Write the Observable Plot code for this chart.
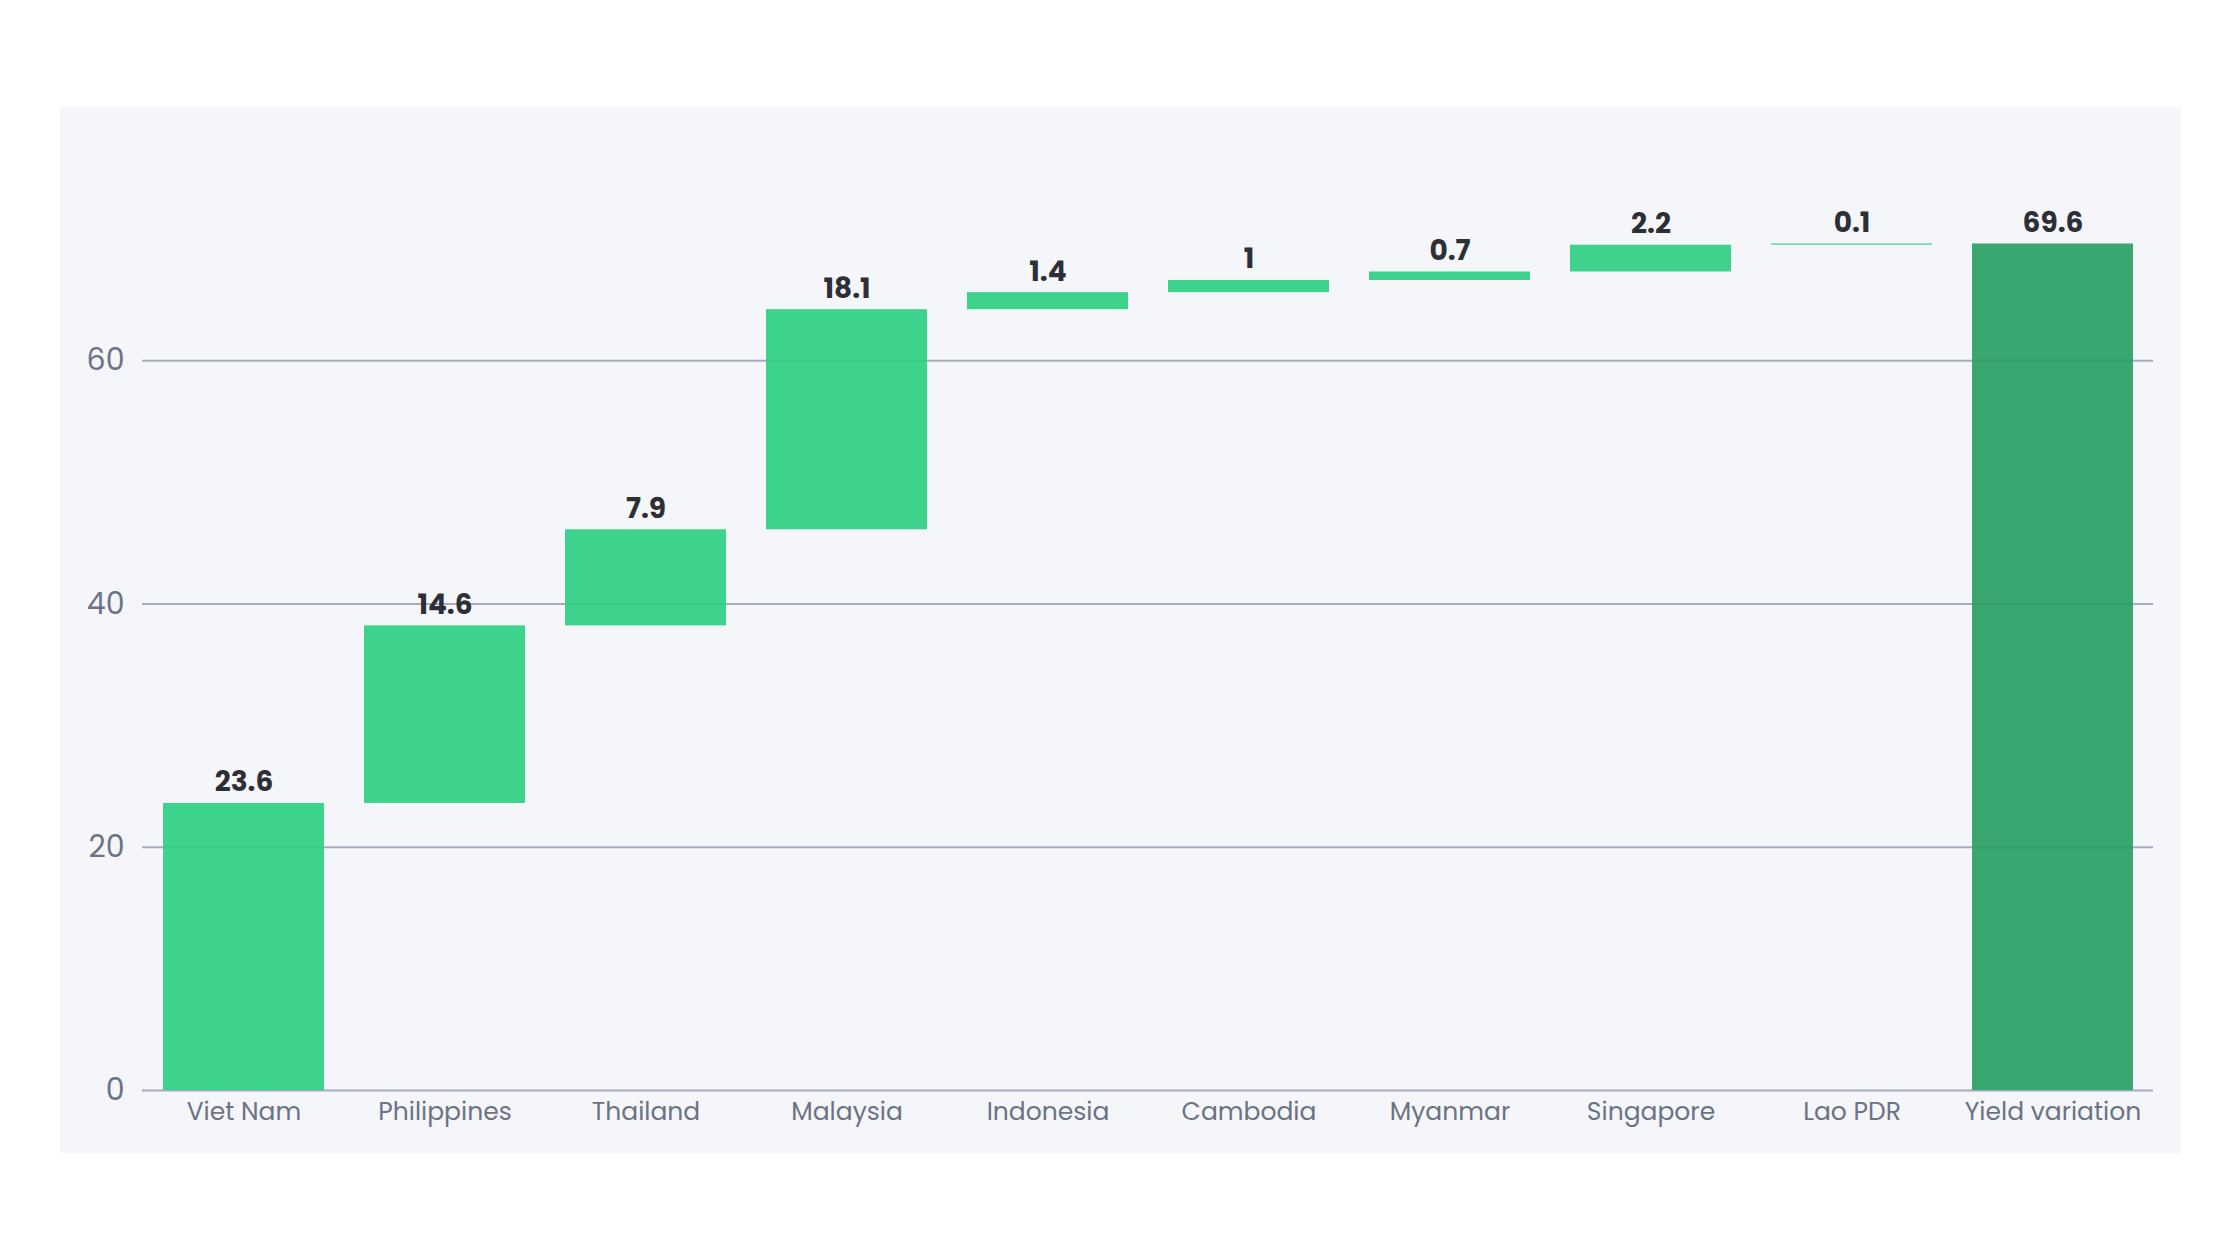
<!DOCTYPE html>
<html>
<head>
<meta charset="utf-8">
<script src="https://cdn.jsdelivr.net/npm/d3@7"></script>
<script src="https://cdn.jsdelivr.net/npm/@observablehq/plot@0.6"></script>
<style>
  html, body { margin: 0; padding: 0; background: #ffffff; }
  body { width: 2240px; height: 1260px; position: relative; overflow: hidden; }
  #chart { position: absolute; left: 60px; top: 107px; line-height: 0; }
</style>
</head>
<body>
<div id="chart"></div>
<script>
const categories = ["Viet Nam", "Philippines", "Thailand", "Malaysia", "Indonesia", "Cambodia", "Myanmar", "Singapore", "Lao PDR"];
const values = [23.6, 14.6, 7.9, 18.1, 1.4, 1, 0.7, 2.2, 0.1];
const totalCategory = "Yield variation";
const totalValue = 69.6;
const yTicks = [0, 20, 40, 60];

// Build waterfall table from the data
const rows = [];
let running = 0;
categories.forEach((c, i) => {
  const start = running;
  running = +(running + values[i]).toFixed(4);
  rows.push({cat: c, y1: start, y2: running, v: values[i], kind: "step"});
});
rows.push({cat: totalCategory, y1: 0, y2: totalValue, v: totalValue, kind: "total"});

const chart = Plot.plot({
  width: 2121,
  height: 1046,
  marginLeft: 82,
  marginRight: 28,
  marginTop: 10,
  marginBottom: 63,
  style: {
    background: "#f5f6fa",
    fontFamily: "Poppins, Inter, 'Open Sans', sans-serif",
    color: "#6b7385",
    overflow: "visible",
    display: "block"
  },
  x: {domain: [...categories, totalCategory], paddingInner: 0.2, paddingOuter: 0.1, label: null},
  y: {domain: [0, 80], label: null},
  marks: [
    Plot.ruleY(yTicks, {stroke: "#a8acbf", strokeWidth: 2}),
    Plot.barY(rows, {
      x: "cat", y1: "y1", y2: "y2",
      fill: d => d.kind === "total" ? "#269d61" : "#29cf7f",
      fillOpacity: 0.9
    }),
    Plot.text(rows, {
      x: "cat", y: "y2",
      text: d => String(d.v),
      lineAnchor: "bottom",
      dy: -12,
      fontSize: 28,
      fontWeight: 700,
      fill: "#2d2f36"
    }),
    Plot.axisY({ticks: yTicks, tickSize: 0, tickPadding: 18, fontSize: 30, label: null}),
    Plot.axisX({tickSize: 0, tickPadding: 12, fontSize: 25, label: null})
  ]
});
document.getElementById("chart").appendChild(chart);
</script>
</body>
</html>
